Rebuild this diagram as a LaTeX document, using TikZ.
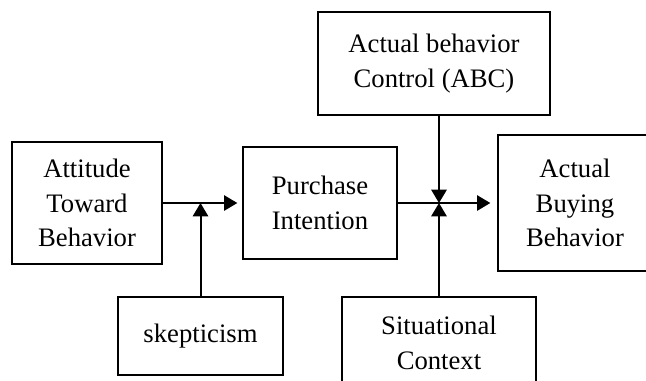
\documentclass[tikz,border=0pt]{standalone}
\usepackage{fontspec}
\setmainfont{Liberation Serif}
\usetikzlibrary{arrows.meta}

\tikzset{
  blk/.style={draw,line width=1pt,inner sep=0pt,align=center,font=\fontsize{20}{26}\selectfont},
  flow/.style={line width=1.5pt,-{Triangle[length=10pt,width=11.5pt]}}
}

\begin{document}
\begin{tikzpicture}[x=0.75pt,y=0.75pt,yscale=-1,xscale=1]
%set diagram area 646 x 380
\clip (0,0) rectangle (646,380);

% Boxes
\node[blk,minimum width=112.5pt,minimum height=91.5pt] (att) at (87,203) {Attitude\\Toward\\Behavior};
\node[blk,minimum width=115.5pt,minimum height=84pt] (pi) at (320,203) {Purchase\\Intention};
\node[blk,minimum width=174pt,minimum height=77.25pt] (abc) at (434,63.5) {Actual behavior\\Control (ABC)};
\node[blk,minimum width=115.5pt,minimum height=102pt] (abb) at (575,203) {Actual\\Buying\\Behavior};
\node[blk,minimum width=123.75pt,minimum height=58.5pt] (skep) at (200.5,336) {skepticism};
\node[blk,minimum width=145.5pt,minimum height=69pt] (sit) at (439,343) {Situational\\Context};

% Junction on the output line
\coordinate (jn) at (sit.north |- pi.east);

% Arrows
\draw[flow,shorten >=3.75pt] (att.east) -- (pi.west);
\draw[flow] (skep.north) -- (skep.north |- att.east);
\draw[flow,shorten >=5.25pt] (pi.east) -- (abb.west);
\draw[flow] (abc.south -| jn) -- (jn);
\draw[flow] (sit.north) -- (jn);

\end{tikzpicture}
\end{document}
